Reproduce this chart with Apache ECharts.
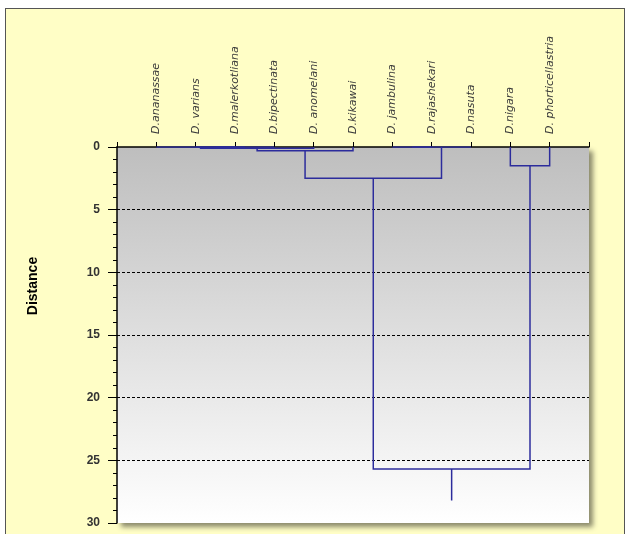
<!DOCTYPE html>
<html>
<head>
<meta charset="utf-8">
<script src="https://cdn.jsdelivr.net/npm/echarts@6/dist/echarts.min.js"></script>
<style>
  html, body { margin: 0; padding: 0; background: #ffffff; }
  #frame { position: absolute; left: 5px; top: 8px; width: 618px; height: 540px;
           border: 1px solid #555; background: #FFFEC6; }
  #chart { position: absolute; left: 0; top: 0; width: 627px; height: 534px; }
</style>
</head>
<body>
<div id="frame"></div>
<div id="chart"></div>
<script>
// Species, in dendrogram leaf order (left to right)
const leaves = ['D.ananassae', 'D. varians', 'D.malerkotliana', 'D.bipectinata', 'D. anomelani',
                'D.kikawai', 'D. jambulina', 'D.rajashekari', 'D.nasuta', 'D.nigara', 'D. phorticellastria'];

// Agglomeration steps: node ids 0..10 are leaves, each merge creates node 11, 12, ...
const mergeA = [1, 11, 0, 13, 14, 6, 16, 15, 9, 18];
const mergeB = [2, 3, 12, 4, 5, 7, 8, 17, 10, 19];
const mergeHeight = [0, 0, 0, 0.1, 0.3, 0, 0, 2.5, 1.5, 25.7];
// Trunk below the last merge
const rootEnd = 28.2;

const yTicks = [0, 5, 10, 15, 20, 25, 30];

// Positions / heights of every node (leaves sit at x = 1..n)
const nodeX = leaves.map((_, i) => i + 1);
const nodeH = leaves.map(() => 0);
const links = [];
for (let k = 0; k < mergeA.length; k++) {
  const a = mergeA[k], b = mergeB[k], h = mergeHeight[k];
  links.push({ coords: [[nodeX[a], nodeH[a]], [nodeX[a], h], [nodeX[b], h], [nodeX[b], nodeH[b]]] });
  nodeX.push((nodeX[a] + nodeX[b]) / 2);
  nodeH.push(h);
}
const root = nodeX.length - 1;
links.push({ coords: [[nodeX[root], nodeH[root]], [nodeX[root], rootEnd]] });

const chart = echarts.init(document.getElementById('chart'), null, { renderer: 'canvas' });
const font = 'Liberation Sans, Arial, sans-serif';

chart.setOption({
  backgroundColor: 'transparent',
  animation: false,
  graphic: [{
    type: 'text', x: 33, y: 286, rotation: Math.PI / 2,
    style: { text: 'Distance', fontFamily: font, fontWeight: 'bold', fontSize: 14, fill: '#000',
             textAlign: 'center', textVerticalAlign: 'middle' }
  }],
  grid: {
    left: 117, top: 147, width: 472, height: 376,
    show: true, borderWidth: 0,
    backgroundColor: new echarts.graphic.LinearGradient(0, 0, 0, 1, [
      { offset: 0, color: '#BEBEBE' },
      { offset: 1, color: '#FFFFFF' }
    ]),
    shadowColor: 'rgba(0,0,0,0.45)', shadowBlur: 5, shadowOffsetX: 4, shadowOffsetY: 4
  },
  xAxis: {
    type: 'value', position: 'top', min: 0, max: leaves.length + 1, interval: 1,
    axisLine: { lineStyle: { color: '#000', width: 1.5 } },
    axisTick: { show: true, length: 5, lineStyle: { color: '#000' } },
    splitLine: { show: false },
    axisLabel: {
      rotate: 90, margin: 13, fontFamily: 'DejaVu Sans', fontStyle: 'italic', fontSize: 11, color: '#3a3a3a',
      formatter: v => leaves[v - 1] || ''
    }
  },
  yAxis: {
    type: 'value', inverse: true, min: yTicks[0], max: yTicks[yTicks.length - 1], interval: 5,
    axisLine: { show: true, lineStyle: { color: '#000', width: 1.5 } },
    axisTick: { show: true, length: 9, lineStyle: { color: '#000' } },
    minorTick: { show: true, splitNumber: 5, length: 4, lineStyle: { color: '#000' } },
    splitLine: {
      show: true,
      lineStyle: { type: [3, 2], width: 1,
        color: yTicks.map((t, i) => (i === 0 || i === yTicks.length - 1) ? 'rgba(0,0,0,0)' : '#000') }
    },
    axisLabel: { margin: 17, fontFamily: font, fontSize: 12, fontWeight: 'bold', color: '#333',
      formatter: v => yTicks.includes(v) ? String(v) : '' }
  },
  series: [{
    type: 'lines', coordinateSystem: 'cartesian2d', polyline: true,
    lineStyle: { color: '#2C2C9C', width: 1.5, opacity: 1 },
    data: links, z: 5
  }]
});
</script>
</body>
</html>
